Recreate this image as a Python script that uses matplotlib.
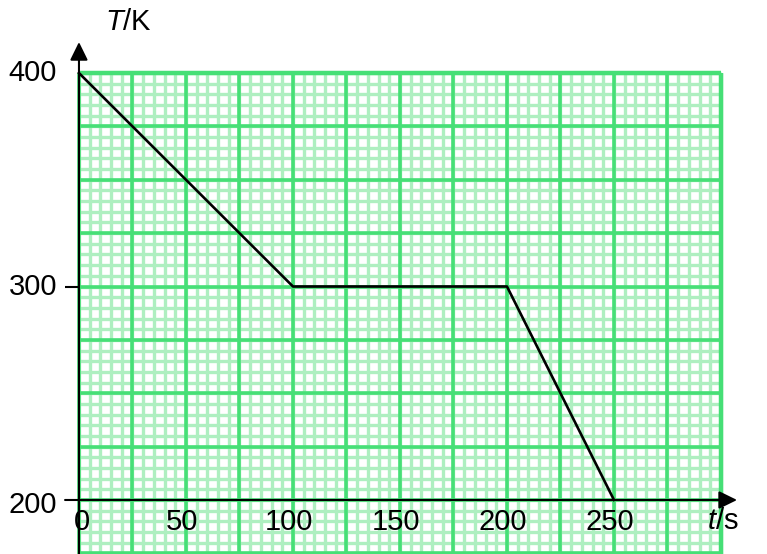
import matplotlib.pyplot as plt
import numpy as np

plt.rcParams["font.family"] = ["Liberation Sans", "DejaVu Sans"]
plt.rcParams["mathtext.fontset"] = "custom"
plt.rcParams["mathtext.it"] = "Liberation Sans:italic"
plt.rcParams["mathtext.rm"] = "Liberation Sans"

# data
t = [0, 100, 200, 250]
T = [400, 300, 300, 200]
x_ticks = [0, 50, 100, 150, 200, 250]
y_ticks = [200, 300, 400]

minor_col = "#aeefc0"
major_col = "#46df76"

fig = plt.figure(figsize=(7.67, 5.54), dpi=100)
ax = fig.add_axes([0, 0, 1, 1])
ax.set_xlim(-36.9, 321.5)
ax.set_ylim(174.7, 434.2)
ax.axis("off")

# graph paper
gx0, gx1, gy0, gy1 = 0, 300, 170, 400
ax.vlines(np.arange(gx0, gx1 + 1, 5), gy0, gy1, color=minor_col, lw=2.4, zorder=1)
ax.hlines(np.arange(175, gy1 + 1, 5), gx0, gx1, color=minor_col, lw=2.4, zorder=1)
ax.vlines(np.arange(gx0, gx1 + 1, 25), gy0, gy1, color=major_col, lw=2.6, zorder=2)
ax.hlines(np.arange(175, gy1 + 1, 25), gx0, gx1, color=major_col, lw=2.6, zorder=2)
ax.vlines([gx1], gy0, gy1, color=major_col, lw=3.2, zorder=2)
ax.hlines([gy1], gx0, gx1, color=major_col, lw=3.2, zorder=2)

# axes with arrows
arr = "-|>,head_length=0.55,head_width=0.27"
ax.annotate("", xy=(0, 414.5), xytext=(0, 174.7),
            arrowprops=dict(arrowstyle=arr, lw=1.5, color="black",
                            mutation_scale=20, shrinkA=0, shrinkB=0), zorder=5)
ax.annotate("", xy=(307.5, 200), xytext=(-6.5, 200),
            arrowprops=dict(arrowstyle=arr, lw=1.5, color="black",
                            mutation_scale=20, shrinkA=0, shrinkB=0), zorder=5)
ax.hlines([300], -6.5, 0, color="black", lw=1.5, zorder=5)

# curve
ax.plot(t, T, color="black", lw=1.9, zorder=6)

# labels
for xv in x_ticks:
    xx = xv + 1.5 if xv == 0 else xv - 2
    ax.text(xx, 189.5, str(xv), ha="center", va="center", fontsize=21, zorder=7)
for yv in y_ticks:
    yy = yv - 2.3 if yv == 200 else yv
    ax.text(-10.3, yy, str(yv), ha="right", va="center", fontsize=21, zorder=7)
ax.text(301, 190.3, r"$\mathit{t}$/s", ha="center", va="center", fontsize=21)
ax.text(23, 424, r"$\mathit{T}$/K", ha="center", va="center", fontsize=21)

fig.savefig("out.png", dpi=100)
